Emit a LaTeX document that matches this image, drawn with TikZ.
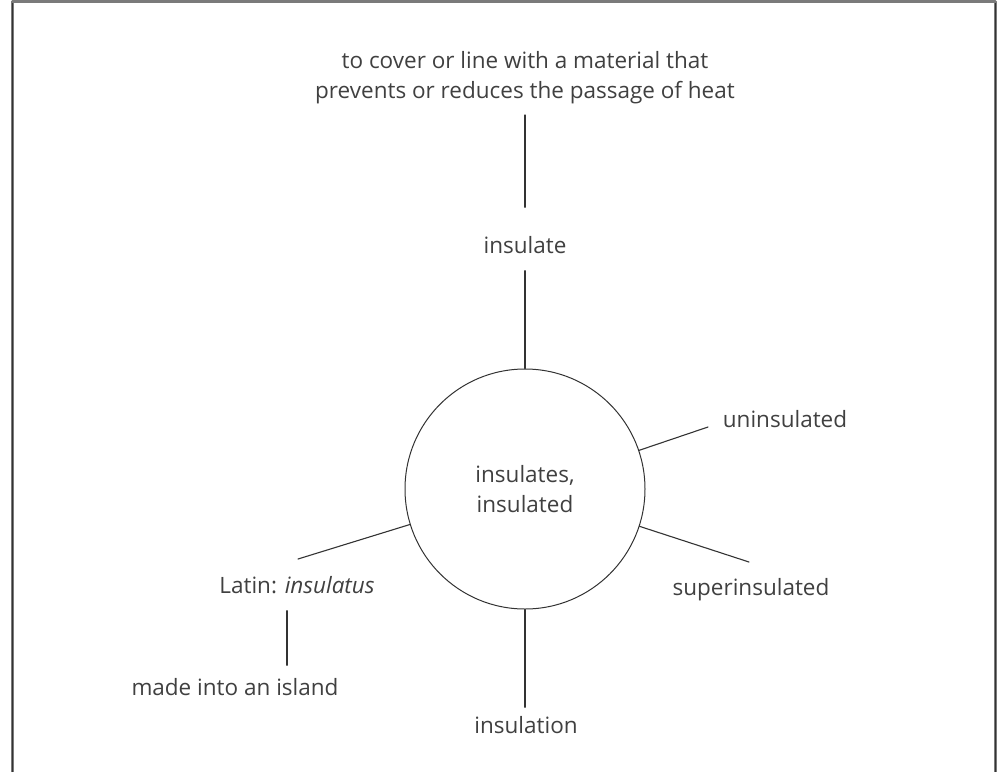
\documentclass[tikz,border=0pt]{standalone}
\usepackage{fontspec}
\setmainfont{Open Sans}
\usepackage{tikz}
\definecolor{ink}{HTML}{333333}
\definecolor{txt}{HTML}{404040}
\definecolor{frame}{HTML}{7A7A7A}
\tikzset{
  every picture/.style={line join=round, line cap=round},
  word/.style={inner sep=0pt, text=txt, font=\fontsize{22.5}{30}\selectfont,
    text height=0.75em, text depth=0.25em},
  link/.style={draw=ink, line width=1.1pt},
  hubnode/.style={circle, draw=ink, line width=1pt, minimum size=240pt,
    inner sep=0pt, align=center, text=txt, font=\fontsize{22.5}{30}\selectfont},
}

\begin{document}
\begin{tikzpicture}[x=1pt,y=-1pt]
\useasboundingbox (0,0) rectangle (997,772);
\draw[frame, line width=2.5pt, line cap=butt] (12.5,772) -- (12.5,1.5) -- (995.5,1.5) -- (995.5,772);
\draw[ink, line width=1.2pt, line cap=butt] (12.5,772) -- (12.5,3) (995.5,3) -- (995.5,772);
% centre and words
\node[hubnode] (hub) at (525,489) {insulates,\\insulated};
\node[word, anchor=south, align=center, text height=, text depth=] (def) at (525,104)
  {to cover or line with a material that\\prevents or reduces the passage of heat};
\node[word, anchor=base] (insulate) at (525,253) {insulate};
\node[word, anchor=base] (uninsulated) at (785,427) {uninsulated};
\node[word, anchor=base] (superinsulated) at (751,595) {superinsulated};
\node[word, anchor=base] (latin) at (297,593) {Latin: \textit{insulatus}};
\node[word, anchor=base] (island) at (235,695) {made into an island};
\node[word, anchor=base] (insulation) at (526,733) {insulation};
% free ends of the spokes
\coordinate (uend) at (708,427);
\coordinate (send) at (749,562);
\coordinate (lend) at (298,559);
% spokes
\draw[link, shorten <=38pt, shorten >=11pt] (insulate.north) -- (def.south);
\draw[link, shorten >=15pt] (hub.north) -- (insulate.south);
\draw[link] (hub) -- (uend);
\draw[link] (hub) -- (send);
\draw[link] (hub) -- (lend);
\draw[link, shorten >=18pt] (hub.south) -- (hub.south |- insulation.north);
\draw[link, shorten <=15pt, shorten >=22pt] ([xshift=-10pt]latin.south) -- ([xshift=-10pt]latin.south |- island.north);
\end{tikzpicture}
\end{document}
